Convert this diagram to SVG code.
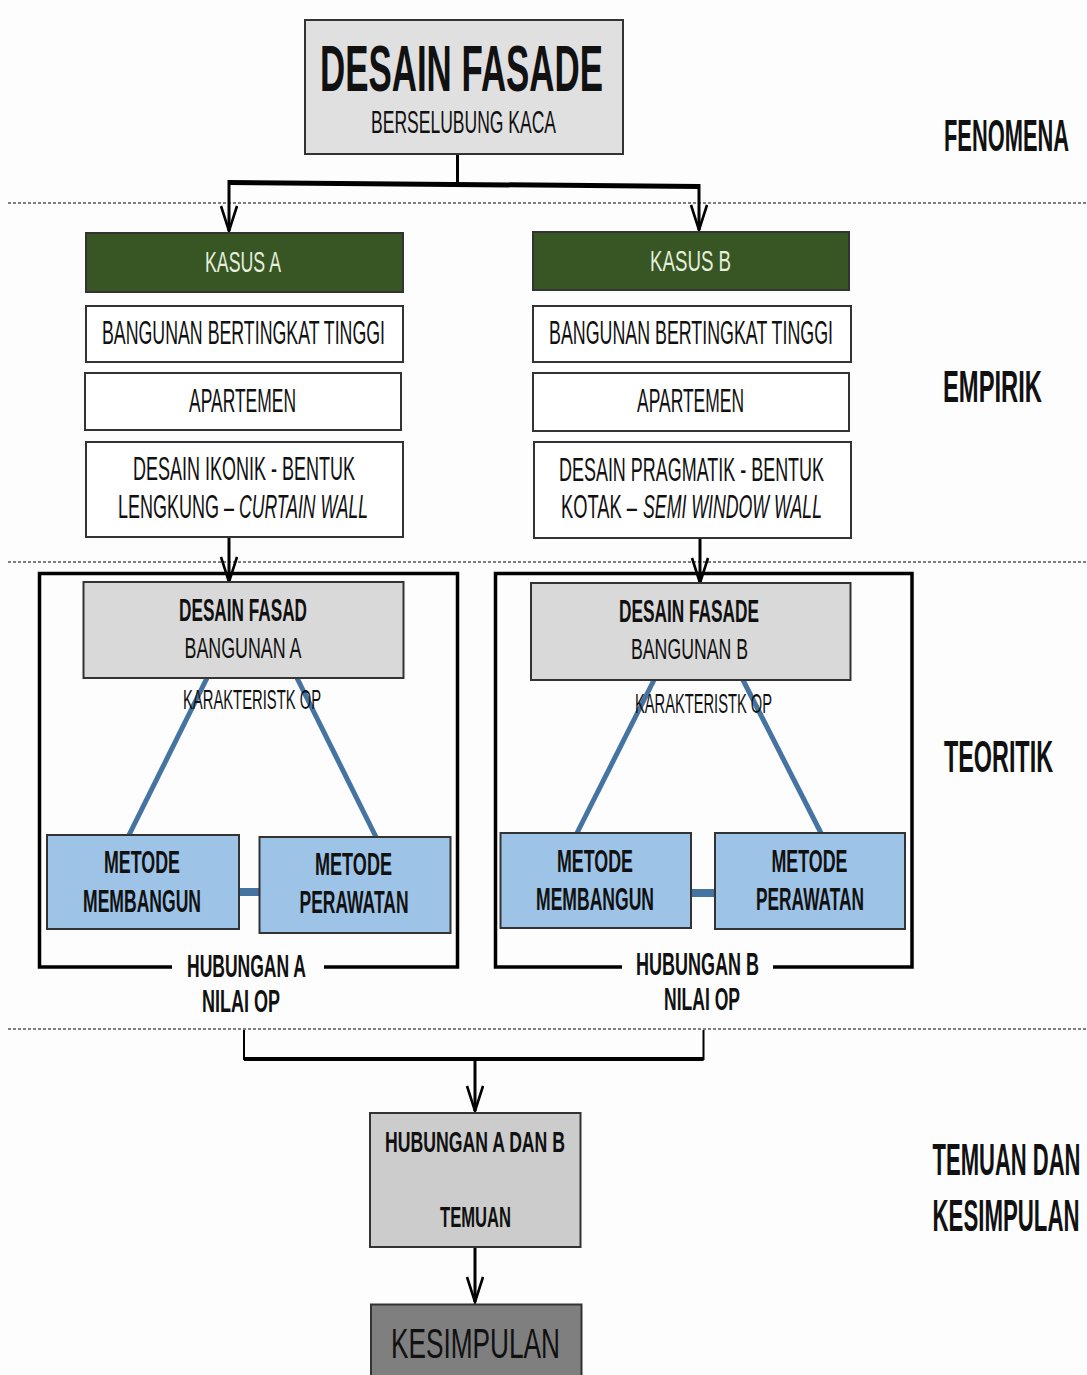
<svg xmlns="http://www.w3.org/2000/svg" width="1087" height="1375" viewBox="0 0 1087 1375">
<style>
text{font-family:"Liberation Sans",Arial,sans-serif;fill:#111;text-anchor:middle}
.b{font-weight:bold}
.st{text-anchor:start}
.box{stroke:#333;stroke-width:2}
.white{fill:#fff}
.gray{fill:#d9d9d9}
.green{fill:#375623}
.blue{fill:#9dc3e6}
.dash{stroke:#555;stroke-width:1.6;stroke-dasharray:3 2;fill:none}
.frame{fill:none;stroke:#000;stroke-width:3.5}
.conn{stroke:#000;stroke-width:3;fill:none}
.bl{stroke:#4674a2;stroke-width:5;fill:none}
.lt{fill:#e6eede}
</style>
<defs>
<marker id="ah" markerUnits="userSpaceOnUse" markerWidth="30" markerHeight="20" refX="26" refY="9" orient="auto">
<path d="M1,1 L26,9 L1,17" fill="none" stroke="#000" stroke-width="2.6"/>
</marker>
</defs>
<rect width="1087" height="1375" fill="#fdfdfd"/>

<g id="dividers">
<line class="dash" x1="8" y1="203" x2="1087" y2="203"/>
<line class="dash" x1="8" y1="562" x2="1087" y2="562"/>
<line class="dash" x1="8" y1="1029" x2="1087" y2="1029"/>
</g>

<g id="labels">
<text class="b" transform="translate(1006.5,151) scale(0.5,1)" font-size="45" textLength="250" lengthAdjust="spacingAndGlyphs">FENOMENA</text>
<text class="b" transform="translate(992.5,402) scale(0.5,1)" font-size="45" textLength="198" lengthAdjust="spacingAndGlyphs">EMPIRIK</text>
<text class="b" transform="translate(998.5,772) scale(0.5,1)" font-size="45" textLength="218" lengthAdjust="spacingAndGlyphs">TEORITIK</text>
<text class="b" transform="translate(1006.5,1175) scale(0.5,1)" font-size="45" textLength="296" lengthAdjust="spacingAndGlyphs">TEMUAN DAN</text>
<text class="b" transform="translate(1006,1231) scale(0.5,1)" font-size="45" textLength="294" lengthAdjust="spacingAndGlyphs">KESIMPULAN</text>
</g>

<g id="frames">
<path class="frame" d="M172,967 L39.5,967 L39.5,573.5 L457.5,573.5 L457.5,967 L324,967"/>
<path class="frame" d="M622,967 L495.5,967 L495.5,573.5 L912,573.5 L912,967 L773,967"/>
</g>

<g id="connectors">
<line class="conn" x1="457.5" y1="154" x2="457.5" y2="184"/>
<line x1="229" y1="182.5" x2="699" y2="186.5" stroke="#000" stroke-width="5"/>
<line class="conn" x1="229" y1="180" x2="229" y2="231" marker-end="url(#ah)"/>
<line class="conn" x1="699" y1="184" x2="699" y2="230" marker-end="url(#ah)"/>
<line class="conn" x1="229" y1="537" x2="229" y2="582" marker-end="url(#ah)"/>
<line class="conn" x1="700" y1="538" x2="700" y2="583" marker-end="url(#ah)"/>
<line class="bl" x1="207" y1="678" x2="129" y2="835"/>
<line class="bl" x1="297" y1="678" x2="376" y2="837"/>
<line class="bl" x1="654" y1="680" x2="577" y2="833"/>
<line class="bl" x1="743" y1="680" x2="821" y2="833"/>
<line x1="239" y1="892" x2="260" y2="892" stroke="#4674a2" stroke-width="8"/>
<line x1="691" y1="893" x2="715" y2="893" stroke="#4674a2" stroke-width="8"/>
<path d="M244,1030 L244,1059 L703.5,1059 L703.5,1030" fill="none" stroke="#000" stroke-width="2"/>
<line x1="244" y1="1059" x2="703.5" y2="1059" stroke="#000" stroke-width="4"/>
<line class="conn" x1="475" y1="1059" x2="475" y2="1111" marker-end="url(#ah)"/>
<line class="conn" x1="475" y1="1247" x2="475" y2="1302" marker-end="url(#ah)"/>
</g>

<g id="node-desain-fasade">
<rect class="box" x="305" y="20" width="318" height="134" fill="#e0e0e0"/>
<text class="b" transform="translate(461.5,91) scale(0.5,1)" font-size="64" textLength="566" lengthAdjust="spacingAndGlyphs">DESAIN FASADE</text>
<text transform="translate(463.5,133) scale(0.5,1)" font-size="32" textLength="370" lengthAdjust="spacingAndGlyphs">BERSELUBUNG  KACA</text>
</g>

<g id="node-kasus-a">
<rect class="box green" x="86" y="233" width="317" height="59"/>
<text class="lt" transform="translate(243,272) scale(0.5,1)" font-size="30" textLength="152" lengthAdjust="spacingAndGlyphs">KASUS A</text>
</g>
<g id="node-kasus-b">
<rect class="box green" x="533" y="232" width="316" height="58"/>
<text class="lt" transform="translate(690.5,271) scale(0.5,1)" font-size="30" textLength="162" lengthAdjust="spacingAndGlyphs">KASUS  B</text>
</g>

<g id="node-bangunan-a">
<rect class="box white" x="86" y="306" width="317" height="56"/>
<text transform="translate(243.5,344) scale(0.5,1)" font-size="33" textLength="566" lengthAdjust="spacingAndGlyphs">BANGUNAN  BERTINGKAT TINGGI</text>
</g>
<g id="node-bangunan-b">
<rect class="box white" x="533" y="306" width="318" height="56"/>
<text transform="translate(691,344) scale(0.5,1)" font-size="33" textLength="568" lengthAdjust="spacingAndGlyphs">BANGUNAN  BERTINGKAT TINGGI</text>
</g>

<g id="node-apartemen-a">
<rect class="box white" x="85" y="373" width="316" height="57"/>
<text transform="translate(242.5,412) scale(0.5,1)" font-size="33" textLength="214" lengthAdjust="spacingAndGlyphs">APARTEMEN</text>
</g>
<g id="node-apartemen-b">
<rect class="box white" x="533" y="373" width="316" height="58"/>
<text transform="translate(690.5,412) scale(0.5,1)" font-size="33" textLength="214" lengthAdjust="spacingAndGlyphs">APARTEMEN</text>
</g>

<g id="node-desain-a">
<rect class="box white" x="86" y="442" width="317" height="95"/>
<text transform="translate(244,480) scale(0.5,1)" font-size="33" textLength="444" lengthAdjust="spacingAndGlyphs">DESAIN IKONIK -  BENTUK</text>
<text class="st" transform="translate(118,518) scale(0.5,1)" font-size="33" textLength="232" lengthAdjust="spacingAndGlyphs">LENGKUNG –</text>
<text class="st" transform="translate(239,518) scale(0.5,1)" font-size="33" font-style="italic" textLength="258" lengthAdjust="spacingAndGlyphs">CURTAIN WALL</text>
</g>
<g id="node-desain-b">
<rect class="box white" x="534" y="442" width="317" height="96"/>
<text transform="translate(691.5,481) scale(0.5,1)" font-size="33" textLength="530" lengthAdjust="spacingAndGlyphs">DESAIN PRAGMATIK -  BENTUK</text>
<text class="st" transform="translate(561,518) scale(0.5,1)" font-size="33" textLength="152" lengthAdjust="spacingAndGlyphs">KOTAK –</text>
<text class="st" transform="translate(643,518) scale(0.5,1)" font-size="33" font-style="italic" textLength="358" lengthAdjust="spacingAndGlyphs">SEMI WINDOW WALL</text>
</g>

<g id="node-fasad-a">
<rect class="box gray" x="83.5" y="582" width="320" height="96"/>
<text class="b" transform="translate(243,621) scale(0.5,1)" font-size="32" textLength="256" lengthAdjust="spacingAndGlyphs">DESAIN  FASAD</text>
<text transform="translate(243,658) scale(0.5,1)" font-size="30" textLength="234" lengthAdjust="spacingAndGlyphs">BANGUNAN  A</text>
</g>
<g id="node-fasad-b">
<rect class="box gray" x="531" y="583" width="319.5" height="97"/>
<text class="b" transform="translate(689,622) scale(0.5,1)" font-size="32" textLength="280" lengthAdjust="spacingAndGlyphs">DESAIN  FASADE</text>
<text transform="translate(689.5,659) scale(0.5,1)" font-size="30" textLength="234" lengthAdjust="spacingAndGlyphs">BANGUNAN  B</text>
</g>

<g id="label-karakteristik-a">
<text transform="translate(252,709) scale(0.5,1)" font-size="27" textLength="276" lengthAdjust="spacingAndGlyphs">KARAKTERISTK  OP</text>
</g>
<g id="label-karakteristik-b">
<text transform="translate(703.5,713) scale(0.5,1)" font-size="27" textLength="274" lengthAdjust="spacingAndGlyphs">KARAKTERISTK  OP</text>
</g>

<g id="node-membangun-a">
<rect class="box blue" x="47" y="835" width="192" height="94"/>
<text class="b" transform="translate(142,873) scale(0.5,1)" font-size="31" textLength="152" lengthAdjust="spacingAndGlyphs">METODE</text>
<text class="b" transform="translate(142,912) scale(0.5,1)" font-size="31" textLength="236" lengthAdjust="spacingAndGlyphs">MEMBANGUN</text>
</g>
<g id="node-perawatan-a">
<rect class="box blue" x="259.5" y="837" width="191" height="96"/>
<text class="b" transform="translate(353.5,875) scale(0.5,1)" font-size="31" textLength="154" lengthAdjust="spacingAndGlyphs">METODE</text>
<text class="b" transform="translate(354,913) scale(0.5,1)" font-size="31" textLength="218" lengthAdjust="spacingAndGlyphs">PERAWATAN</text>
</g>
<g id="node-membangun-b">
<rect class="box blue" x="500.5" y="833" width="190.5" height="95"/>
<text class="b" transform="translate(595,872) scale(0.5,1)" font-size="31" textLength="152" lengthAdjust="spacingAndGlyphs">METODE</text>
<text class="b" transform="translate(595,910) scale(0.5,1)" font-size="31" textLength="236" lengthAdjust="spacingAndGlyphs">MEMBANGUN</text>
</g>
<g id="node-perawatan-b">
<rect class="box blue" x="715" y="833" width="190" height="96"/>
<text class="b" transform="translate(809.5,872) scale(0.5,1)" font-size="31" textLength="152" lengthAdjust="spacingAndGlyphs">METODE</text>
<text class="b" transform="translate(810,910) scale(0.5,1)" font-size="31" textLength="216" lengthAdjust="spacingAndGlyphs">PERAWATAN</text>
</g>

<g id="label-hubungan-a">
<text class="b" transform="translate(246.5,977) scale(0.5,1)" font-size="32" textLength="238" lengthAdjust="spacingAndGlyphs">HUBUNGAN  A</text>
<text class="b" transform="translate(241,1012) scale(0.5,1)" font-size="32" textLength="156" lengthAdjust="spacingAndGlyphs">NILAI  OP</text>
</g>
<g id="label-hubungan-b">
<text class="b" transform="translate(697.5,975) scale(0.5,1)" font-size="32" textLength="246" lengthAdjust="spacingAndGlyphs">HUBUNGAN  B</text>
<text class="b" transform="translate(702,1010) scale(0.5,1)" font-size="32" textLength="152" lengthAdjust="spacingAndGlyphs">NILAI  OP</text>
</g>

<g id="node-hubungan-ab">
<rect class="box" x="370" y="1113" width="210.5" height="134" fill="#cccccc"/>
<text class="b" transform="translate(475,1152) scale(0.5,1)" font-size="30" textLength="360" lengthAdjust="spacingAndGlyphs">HUBUNGAN  A DAN  B</text>
<text class="b" transform="translate(475.5,1227) scale(0.5,1)" font-size="30" textLength="142" lengthAdjust="spacingAndGlyphs">TEMUAN</text>
</g>

<g id="node-kesimpulan">
<rect class="box" x="371" y="1304.5" width="210.5" height="80" fill="#7f7f7f"/>
<text transform="translate(475.5,1358) scale(0.5,1)" font-size="43" textLength="338" lengthAdjust="spacingAndGlyphs">KESIMPULAN</text>
</g>
</svg>
